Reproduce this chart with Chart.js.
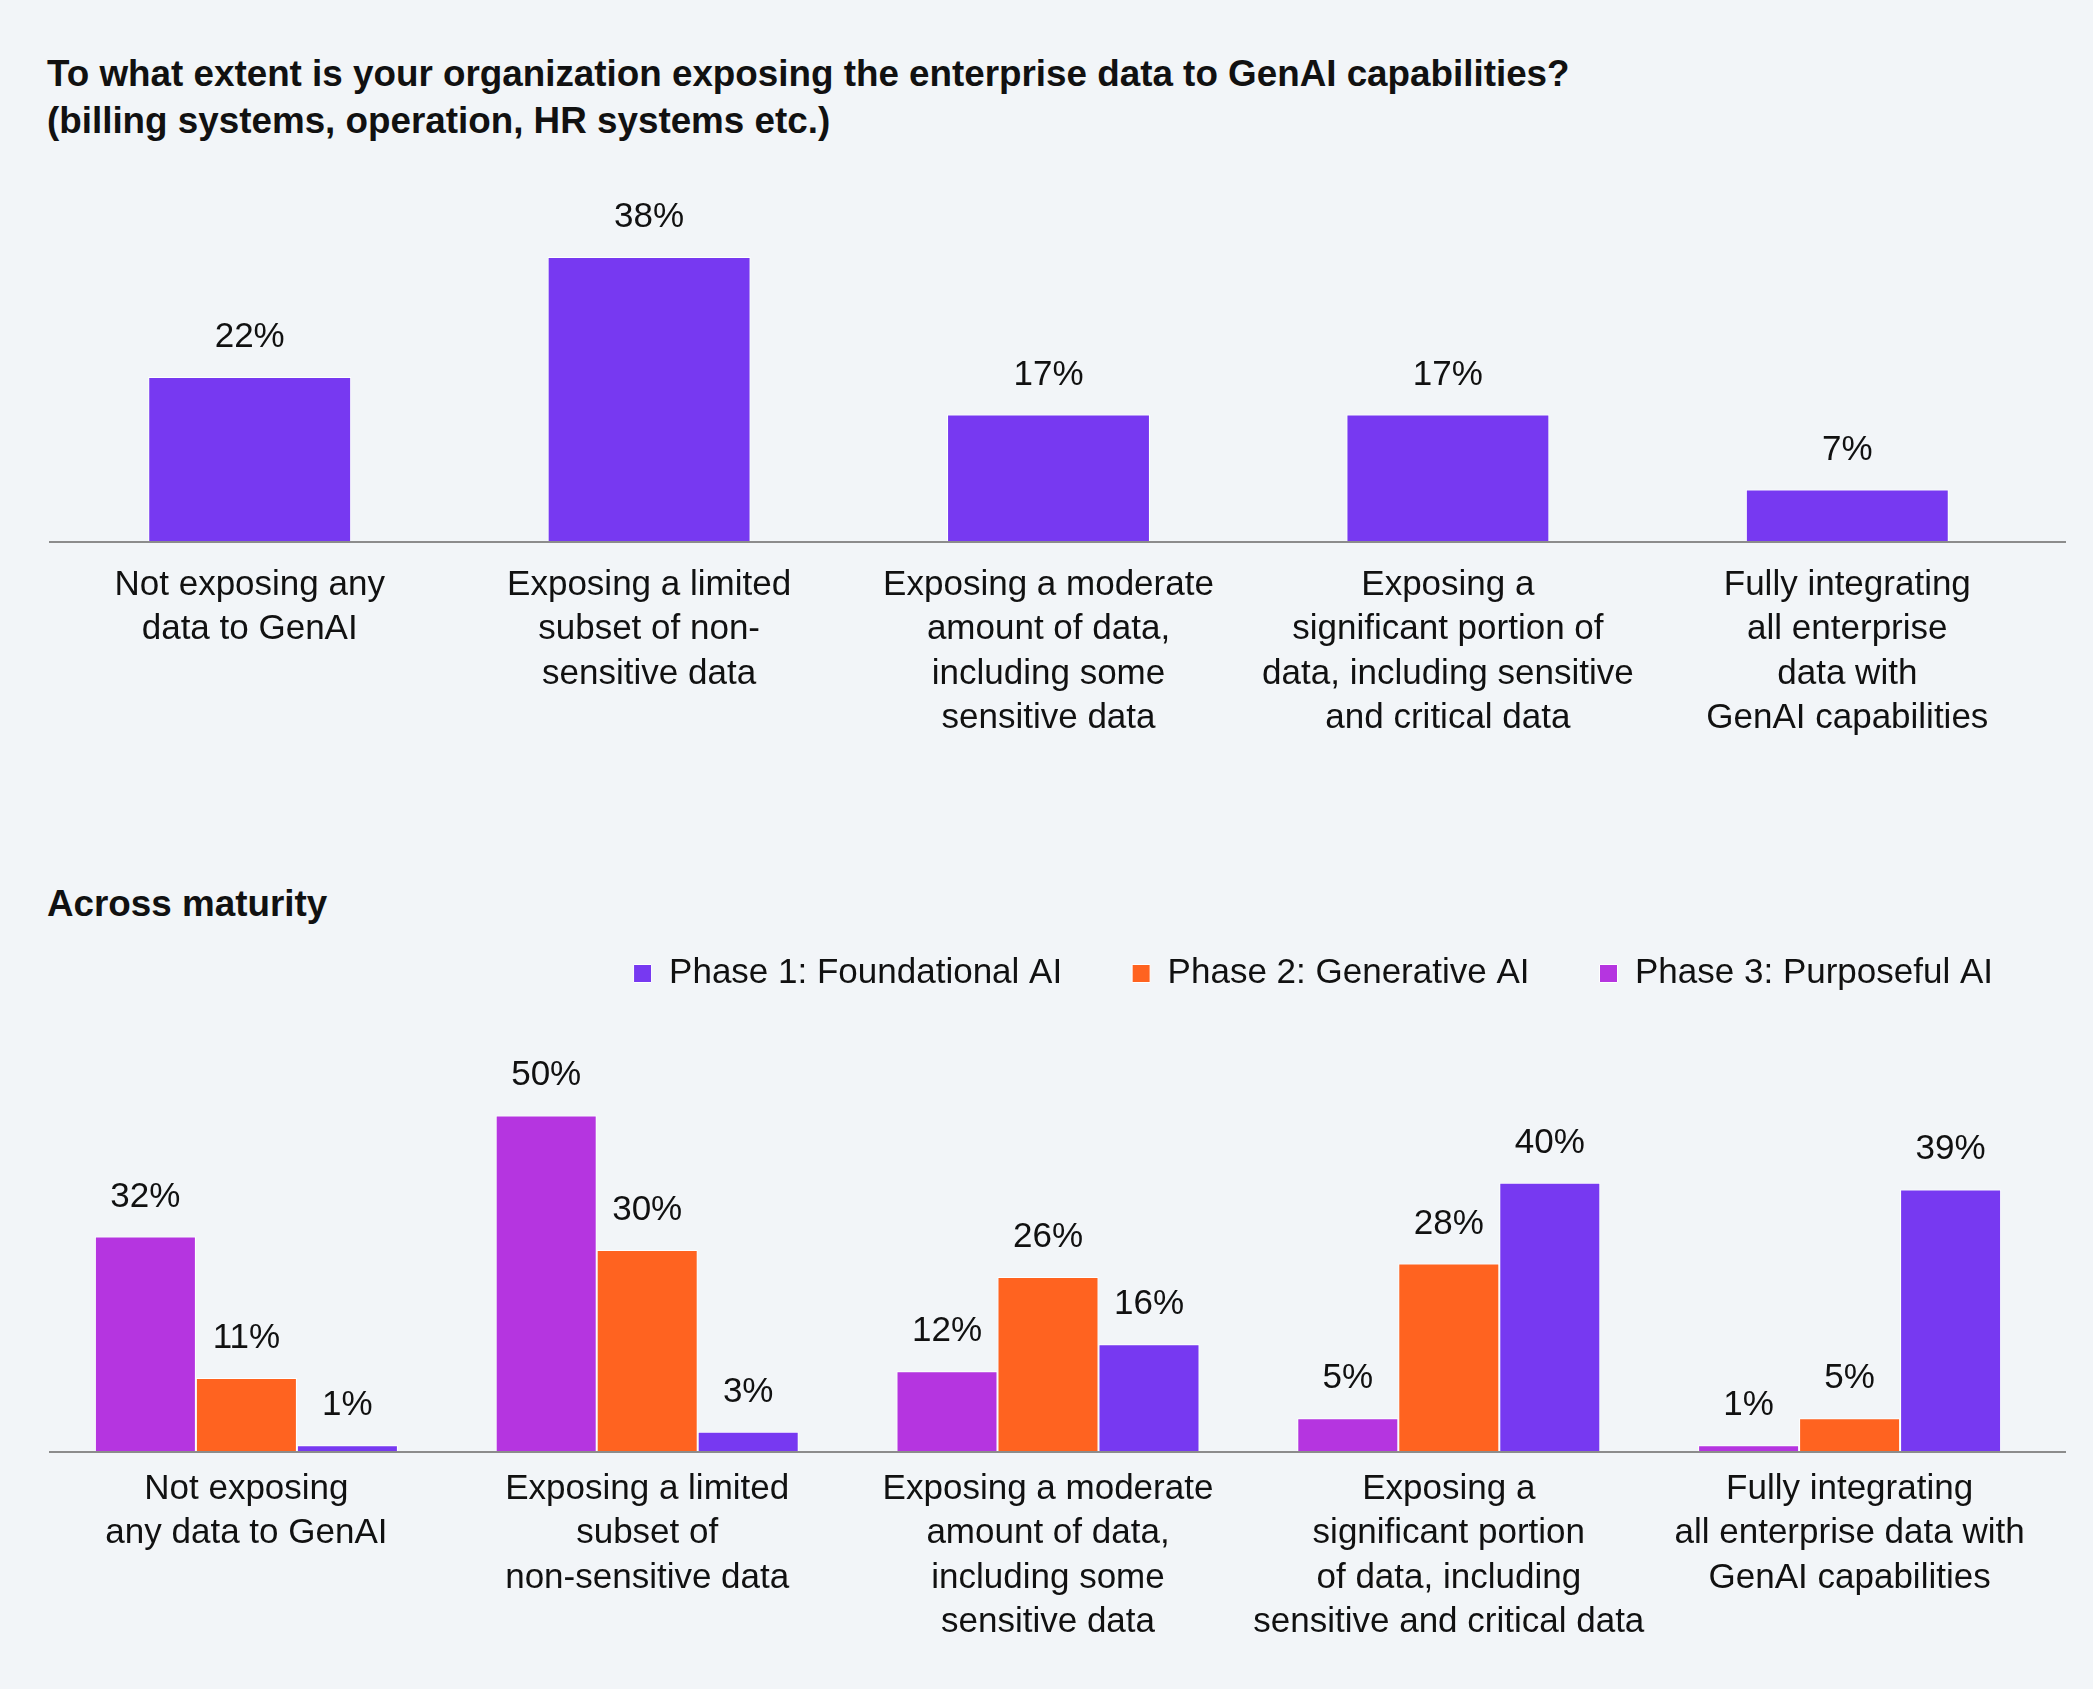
<!DOCTYPE html>
<html>
<head>
<meta charset="utf-8">
<script src="https://cdn.jsdelivr.net/npm/chart.js@4.4.0/dist/chart.umd.min.js"></script>
<style>
  body { margin: 0; background: #f2f5f8; width: 2093px; height: 1689px; position: relative; overflow: hidden;
         font-family: "Liberation Sans", Arial, sans-serif; color: #111; }
  .title { position: absolute; left: 47px; font-size: 36.8px; font-weight: bold; line-height: 47px; }
  canvas { position: absolute; left: 0; }
</style>
</head>
<body>
<div class="title" style="top:50px;">To what extent is your organization exposing the enterprise data to GenAI capabilities?<br>(billing systems, operation, HR systems etc.)</div>
<div class="title" style="top:880px;">Across maturity</div>
<canvas id="overallChart" width="2093" height="800" style="top:0;"></canvas>
<canvas id="maturityChart" width="2093" height="819" style="top:870px;"></canvas>
<script>
// 数据
const overallLabels = [
  ['Not exposing any', 'data to GenAI'],
  ['Exposing a limited', 'subset of non-', 'sensitive data'],
  ['Exposing a moderate', 'amount of data,', 'including some', 'sensitive data'],
  ['Exposing a', 'significant portion of', 'data, including sensitive', 'and critical data'],
  ['Fully integrating', 'all enterprise', 'data with', 'GenAI capabilities']
];
const overallValues = [22, 38, 17, 17, 7];

const maturityLabels = [
  ['Not exposing', 'any data to GenAI'],
  ['Exposing a limited', 'subset of', 'non-sensitive data'],
  ['Exposing a moderate', 'amount of data,', 'including some', 'sensitive data'],
  ['Exposing a', 'significant portion', 'of data, including', 'sensitive and critical data'],
  ['Fully integrating', 'all enterprise data with', 'GenAI capabilities']
];
const phaseNames = ['Phase 1: Foundational AI', 'Phase 2: Generative AI', 'Phase 3: Purposeful AI'];
// bars in the order they are drawn in each group (colours as in the legend)
const phase3Values = [32, 50, 12, 5, 1];
const phase2Values = [11, 30, 26, 28, 5];
const phase1Values = [1, 3, 16, 40, 39];

const VIOLET = '#7739f1';
const ORANGE = '#ff6320';
const MAGENTA = '#b535e0';
const FONT = '"Liberation Sans", Arial, sans-serif';

// 柱子上方的百分比
const barLabels = {
  id: 'barLabels',
  afterDatasetsDraw(chart) {
    const ctx = chart.ctx;
    ctx.save();
    ctx.font = '35px ' + FONT;
    ctx.fillStyle = '#111';
    ctx.textAlign = 'center';
    ctx.textBaseline = 'alphabetic';
    chart.data.datasets.forEach(function(ds, i) {
      chart.getDatasetMeta(i).data.forEach(function(bar, j) {
        ctx.fillText(ds.data[j] + '%', bar.x, bar.y - 30);
      });
    });
    ctx.restore();
  }
};

// 基线，比柱子区域更宽一点
const baseLine = {
  id: 'baseLine',
  afterDraw(chart) {
    const ctx = chart.ctx;
    const y = chart.scales.x.top;
    ctx.save();
    ctx.strokeStyle = '#8c8c8c';
    ctx.lineWidth = 2;
    ctx.beginPath();
    ctx.moveTo(49, y);
    ctx.lineTo(2066, y);
    ctx.stroke();
    ctx.restore();
  }
};

function xAxis(height, pad) {
  return {
    grid: { display: false, drawTicks: false },
    border: { display: false },
    ticks: {
      color: '#111', padding: pad, autoSkip: false, maxRotation: 0, minRotation: 0,
      font: { family: FONT, size: 35, lineHeight: 1.27 }
    },
    afterFit: function(scale) { scale.height = height; }
  };
}

new Chart(document.getElementById('overallChart'), {
  type: 'bar',
  data: {
    labels: overallLabels,
    datasets: [{
      data: overallValues,
      backgroundColor: VIOLET,
      borderColor: '#ffffff',
      borderWidth: 1,
      barPercentage: 0.508,
      categoryPercentage: 1
    }]
  },
  options: {
    responsive: false,
    devicePixelRatio: 1,
    animation: false,
    layout: { padding: { left: 50, right: 46, top: 242, bottom: 0 } },
    plugins: { legend: { display: false }, tooltip: { enabled: false } },
    scales: {
      x: xAxis(258, 21),
      y: { display: false, min: 0, max: 40 }
    }
  },
  plugins: [barLabels, baseLine]
});

new Chart(document.getElementById('maturityChart'), {
  type: 'bar',
  data: {
    labels: maturityLabels,
    datasets: [
      { label: phaseNames[2], data: phase3Values, backgroundColor: MAGENTA },
      { label: phaseNames[1], data: phase2Values, backgroundColor: ORANGE },
      { label: phaseNames[0], data: phase1Values, backgroundColor: VIOLET }
    ].map(function(d) {
      return Object.assign(d, { borderColor: '#ffffff', borderWidth: 1, barPercentage: 1, categoryPercentage: 0.756 });
    })
  },
  options: {
    responsive: false,
    devicePixelRatio: 1,
    animation: false,
    layout: { padding: { left: 46, right: 30, top: 16, bottom: 0 } },
    plugins: {
      legend: {
        align: 'end',
        reverse: true,
        labels: {
          color: '#111', boxWidth: 18, boxHeight: 18, padding: 70,
          font: { family: FONT, size: 35 }
        }
      },
      tooltip: { enabled: false }
    },
    scales: {
      x: xAxis(237, 15),
      // 隐藏的 y 轴，只用来在右边留一点空
      y: {
        position: 'right', min: 0, max: 67,
        grid: { display: false, drawTicks: false },
        border: { display: false },
        ticks: { display: false },
        afterFit: function(scale) { scale.width = 13; }
      }
    }
  },
  plugins: [barLabels, baseLine]
});
</script>
</body>
</html>
